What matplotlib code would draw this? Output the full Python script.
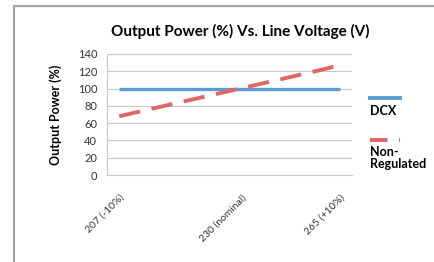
import matplotlib.pyplot as plt
from matplotlib.lines import Line2D
from matplotlib.patches import Rectangle

plt.rcParams['font.family'] = ['Lato', 'DejaVu Sans']

# category axis (only three of the ten categories are labelled)
tick_labels = ['207 (-10%)', '', '', '', '', '230 (nominal)', '', '', '', '265 (+10%)']
dcx = [100, 100, 100, 100, 100, 100, 100, 100, 100, 100]
non_reg = [68, 74.5, 81, 87.5, 94, 100.5, 107, 113.5, 120, 127]

blue = '#5b9bd5'
red = '#e06666'

fig = plt.figure(figsize=(4.34, 2.62), dpi=100)
ax = fig.add_axes([107/434, 1 - 175/262, 245/434, 121/262])

x = list(range(len(dcx)))
ax.plot(x, dcx, color=blue, lw=2.4, solid_capstyle='butt')
ax.plot(x, non_reg, color=red, lw=2.8, dashes=(5.5, 3))

ax.set_xlim(-0.5, len(x) - 0.5)
ax.set_ylim(0, 140)
ax.set_yticks(range(0, 141, 20))
ax.tick_params(axis='y', length=0, labelsize=8, pad=7, colors='#333333')
ax.set_xticks(x)
ax.set_xticklabels(tick_labels, rotation=45, ha='right', rotation_mode='anchor',
                   fontsize=7.5, color='#333333')
ax.tick_params(axis='x', length=0, pad=13)
ax.grid(axis='y', color='#c8c8c8', lw=0.8)
ax.set_axisbelow(True)
for s in ['top', 'right']:
    ax.spines[s].set_visible(False)
for s in ['left', 'bottom']:
    ax.spines[s].set_color('#c8c8c8')
    ax.spines[s].set_linewidth(0.8)

ax.set_ylabel('Output Power (%)', fontsize=9, fontweight='bold', labelpad=11)
fig.text(240/434, 1 - 31/262, 'Output Power (%) Vs. Line Voltage (V)',
         ha='center', va='center', fontsize=11, fontweight='bold')

# legend (Excel-style: sample line above the label)
fig.add_artist(Line2D([370/434, 400/434], [1 - 98/262, 1 - 98/262],
                      color=blue, lw=2.8, transform=fig.transFigure))
fig.text(370/434, 1 - 111/262, 'DCX', fontsize=9, fontweight='bold', va='center')
fig.add_artist(Line2D([370/434, 400/434], [1 - 140/262, 1 - 140/262],
                      color=red, lw=2.8, dashes=(4.5, 3), transform=fig.transFigure))
fig.text(370/434, 1 - 158/262, 'Non-\nRegulated', fontsize=9, fontweight='bold',
         va='center', linespacing=1.0)

# chart frame
fig.add_artist(Rectangle((14/434, -0.1), 1.2, 1 - 6/262 + 0.1, transform=fig.transFigure,
                         fill=False, ec='#a6a6a6', lw=1.6))

fig.savefig('out.png', dpi=100)
